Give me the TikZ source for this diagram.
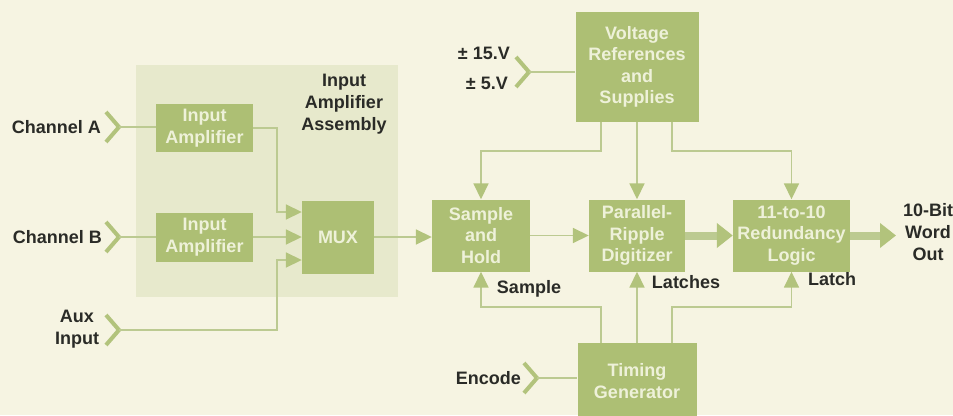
\documentclass[tikz,border=0pt]{standalone}
\usepackage{fontspec}
\setmainfont{Liberation Sans}
\usetikzlibrary{arrows.meta}
\definecolor{bgc}{HTML}{F6F4E2}
\definecolor{shadec}{HTML}{E7E9CC}
\definecolor{boxc}{HTML}{ADBF74}
\definecolor{boxtxt}{HTML}{EEF1D9}
\definecolor{linec}{HTML}{BCCA91}
\definecolor{tipc}{HTML}{B2C37C}
\definecolor{txtc}{HTML}{2A2B27}
\begin{document}
\begin{tikzpicture}[x=1pt,y=-1pt,
  blk/.style={rectangle, fill=boxc, text=boxtxt, font=\fontsize{18}{21.5}\selectfont\bfseries, align=center, inner sep=0pt},
  asmbox/.style={rectangle, fill=shadec, inner sep=0pt},
  lbl/.style={text=txtc, font=\fontsize{18}{22}\selectfont\bfseries, align=center, inner sep=0pt},
  wire/.style={draw=linec, line width=1.7pt},
  arr/.style={wire, -{Triangle[length=16pt,width=15pt,color=tipc]}},
  fat/.style={draw=linec, line width=8pt, -{Triangle[length=16pt,width=24pt,color=tipc]}},
  chev/.style={draw=tipc, line width=4pt, line join=miter},
]
\useasboundingbox (0,0) rectangle (953,415);
\fill[bgc] (0,0) rectangle (953,415);

\node[asmbox, minimum width=262pt, minimum height=232pt] (asm) at (267,181) {};

% blocks
\node[blk, minimum width=97pt, minimum height=48pt] (ampA) at (204.5,128) {Input\\Amplifier};
\node[blk, minimum width=97pt, minimum height=49pt] (ampB) at (204.5,237) {Input\\Amplifier};
\node[blk, minimum width=72pt, minimum height=73pt] (mux) at (338,237) {MUX};
\node[blk, minimum width=123pt, minimum height=110pt] (vref) at (637,67) {Voltage\\References\\and\\Supplies};
\node[blk, minimum width=98pt, minimum height=72pt] (sh) at (481,235.5) {Sample\\and\\Hold};
\node[blk, minimum width=96pt, minimum height=72pt] (prd) at (637,235.5) {Parallel-\\Ripple\\Digitizer};
\node[blk, minimum width=117pt, minimum height=72pt] (red) at (791.5,235.5) {11-to-10\\Redundancy\\Logic};
\node[blk, minimum width=119pt, minimum height=76pt] (tim) at (637,381) {Timing\\Generator};

% coordinates
\coordinate (chA) at (119,127);
\coordinate (chB) at (119,237);
\coordinate (chX) at (119,330);
\coordinate (chV) at (529,72);
\coordinate (chE) at (537,378);
\coordinate (jx) at (277,330);
\coordinate (out) at (896,235.5);

% labels
\node[lbl, anchor=east] (lA) at (101,127) {Channel A};
\node[lbl, anchor=east] (lB) at (102,237) {Channel B};
\node[lbl] (lX) at (77,329) {Aux\\Input};
\node[lbl, anchor=east] (lV1) at (510,53) {± 15.V};
\node[lbl, anchor=east] (lV2) at (508,83) {± 5.V};
\node[lbl] (lasm) at (344,104) {Input\\Amplifier\\Assembly};
\node[lbl] (lS) at (529,289) {Sample};
\node[lbl] (lL) at (686,282) {Latches};
\node[lbl] (lL2) at (832,279) {Latch};
\node[lbl, anchor=east] (lE) at (521,378) {Encode};
\node[lbl] (lO) at (928,232) {10-Bit\\Word\\Out};

% chevrons
\foreach \c in {chA,chB,chX,chV,chE}
  \draw[chev] ([shift={(-13,-15)}]\c) -- (\c) -- ([shift={(-13,15)}]\c);

% connectors
\draw[wire] (chA) -- (chA -| ampA.west);
\draw[wire] (chB) -- (chB -| ampB.west);
\draw[arr] (ampA.east) -- (ampA.east -| jx) -- ([yshift=25pt]mux.west -| jx) -- ([yshift=25pt]mux.west);
\draw[arr] (ampB.east) -- (mux.west);
\draw[arr] (chX) -- (jx) -- ([yshift=-23pt]mux.west -| jx) -- ([yshift=-23pt]mux.west);
\draw[arr] (mux.east) -- (mux.east -| sh.west);
\draw[arr] (sh.east) -- (prd.west);
\draw[fat] (prd.east) -- (red.west);
\draw[fat] (red.east) -- (out);
\draw[wire] (chV) -- (chV -| vref.west);
\draw[arr] ([xshift=-36pt]vref.south) -- ++(0,29) -| (sh.north);
\draw[arr] (vref.south) -- (prd.north);
\draw[arr] ([xshift=35pt]vref.south) -- ++(0,29) -| (red.north);
\draw[arr] ([xshift=-36pt]tim.north) -- ++(0,-36) -| (sh.south);
\draw[arr] (tim.north) -- (prd.south);
\draw[arr] ([xshift=35pt]tim.north) -- ++(0,-36) -| (red.south);
\draw[wire] (chE) -- (chE -| tim.west);
\end{tikzpicture}
\end{document}
